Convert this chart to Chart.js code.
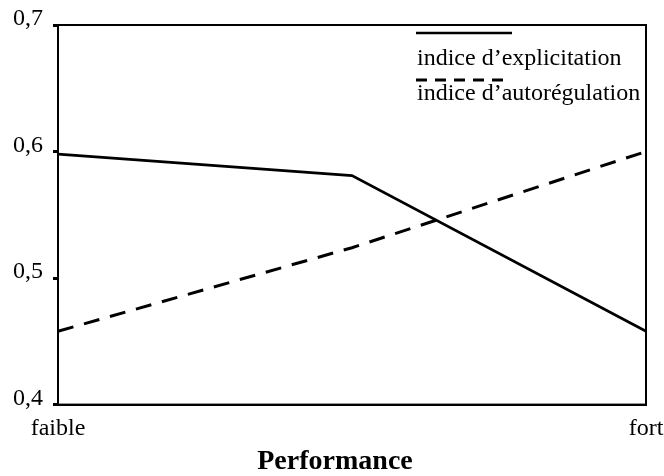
<!DOCTYPE html>
<html>
<head>
<meta charset="utf-8">
<script src="https://cdn.jsdelivr.net/npm/chart.js@4/dist/chart.umd.min.js"></script>
<style>
  html, body { margin: 0; padding: 0; background: #fff; }
  #wrap { width: 664px; height: 476px; }
</style>
</head>
<body>
<div id="wrap"><canvas id="c" width="664" height="476"></canvas></div>
<script>
// ---- data ----
const categories = ['faible', '', 'fort'];
const seriesNames = ['indice d\u2019explicitation', 'indice d\u2019autor\u00e9gulation'];
const explicitation = [0.598, 0.581, 0.458];
const autoregulation = [0.458, 0.524, 0.600];
const yTickValues = [0.4, 0.5, 0.6, 0.7];
const yTickLabels = ['0,4', '0,5', '0,6', '0,7'];
const xTitle = 'Performance';

const FONT = "'Liberation Serif', 'Times New Roman', serif";

const framePlugin = {
  id: 'frame',
  afterDatasetsDraw(chart) {
    const { ctx, chartArea: a } = chart;
    ctx.save();
    ctx.strokeStyle = '#000';
    ctx.lineWidth = 2;
    ctx.strokeRect(a.left, a.top, a.right - a.left, a.bottom - a.top);
    ctx.restore();
  }
};

const legendPlugin = {
  id: 'lineLegend',
  afterDraw(chart, args, opts) {
    const { ctx } = chart;
    ctx.save();
    chart.data.datasets.forEach((ds, i) => {
      const it = opts.items[i];
      ctx.beginPath();
      ctx.strokeStyle = '#000';
      ctx.lineWidth = it.lw;
      ctx.setLineDash(it.dash);
      ctx.moveTo(it.x1, it.ly);
      ctx.lineTo(it.x2, it.ly);
      ctx.stroke();
      ctx.setLineDash([]);
      ctx.fillStyle = '#000';
      ctx.font = opts.font;
      ctx.textBaseline = 'alphabetic';
      ctx.textAlign = 'left';
      ctx.fillText(ds.label, it.tx, it.ty);
    });
    ctx.restore();
  }
};

new Chart(document.getElementById('c'), {
  type: 'line',
  data: {
    labels: categories,
    datasets: [
      {
        label: seriesNames[0],
        data: explicitation,
        borderColor: '#000',
        borderWidth: 2.7,
        pointRadius: 0,
        tension: 0,
        fill: false
      },
      {
        label: seriesNames[1],
        data: autoregulation,
        borderColor: '#000',
        borderWidth: 3,
        borderDash: [16, 11],
        pointRadius: 0,
        tension: 0,
        fill: false
      }
    ]
  },
  options: {
    responsive: false,
    animation: false,
    devicePixelRatio: 1,
    layout: { padding: { top: 25, right: 0, bottom: 0, left: 6 } },
    plugins: {
      legend: { display: false },
      tooltip: { enabled: false },
      title: {
        display: true,
        position: 'bottom',
        text: xTitle,
        color: '#000',
        font: { family: FONT, size: 28, weight: 'bold', lineHeight: 1.05 },
        padding: { top: 0, bottom: 0 }
      },
      lineLegend: {
        font: "24px " + FONT,
        items: [
          { x1: 416, x2: 512, ly: 33, lw: 2.5, dash: [], tx: 417, ty: 65 },
          { x1: 416, x2: 508, ly: 80, lw: 3, dash: [11, 8], tx: 417, ty: 100 }
        ]
      }
    },
    scales: {
      x: {
        type: 'category',
        offset: false,
        grid: { display: false },
        border: { display: true, color: '#000', width: 2 },
        ticks: {
          color: '#000',
          font: { family: FONT, size: 24 },
          padding: 2,
          maxRotation: 0,
          autoSkip: false
        },
        afterFit(s) { s.height = 42; s.paddingLeft = 0; s.paddingRight = 18; }
      },
      y: {
        min: 0.4,
        max: 0.7,
        afterBuildTicks(s) { s.ticks = yTickValues.map(v => ({ value: v })); },
        grid: {
          display: true,
          drawOnChartArea: false,
          drawTicks: true,
          tickLength: 5,
          tickWidth: 3,
          tickColor: '#000'
        },
        border: { display: true, color: '#000', width: 2 },
        ticks: {
          color: '#000',
          font: { family: FONT, size: 24 },
          padding: 10,
          labelOffset: -6,
          callback: (v, i) => yTickLabels[i]
        },
        afterFit(s) { s.width = 52; }
      }
    }
  },
  plugins: [framePlugin, legendPlugin]
});
</script>
</body>
</html>
